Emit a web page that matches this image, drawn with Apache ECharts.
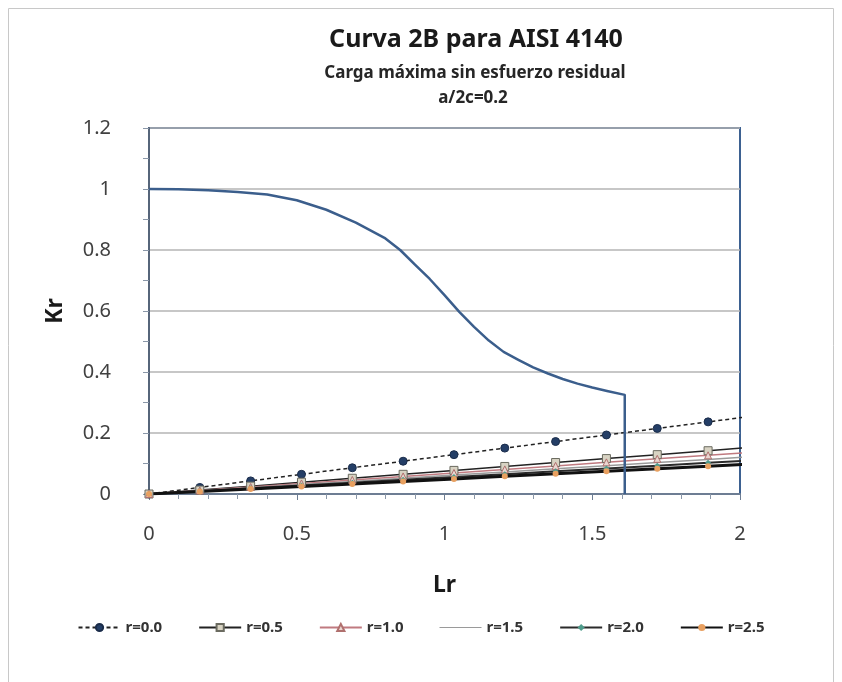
<!DOCTYPE html>
<html>
<head>
<meta charset="utf-8">
<script src="https://cdn.jsdelivr.net/npm/echarts@6/dist/echarts.min.js"></script>
<style>
  html, body { margin: 0; padding: 0; background: #fff; }
  #chart { width: 842px; height: 682px; }
</style>
</head>
<body>
<div id="chart"></div>
<script>
// curva FAD (Lr, Kr)
const fadLr = [0, 0.1, 0.2, 0.3, 0.4, 0.5, 0.6, 0.7, 0.8, 0.85, 0.9, 0.95, 1.0, 1.05, 1.1, 1.15, 1.2, 1.25, 1.3, 1.35, 1.4, 1.45, 1.5, 1.55, 1.61, 1.61]
const fadKr = [1.0, 0.999, 0.996, 0.99, 0.982, 0.963, 0.932, 0.89, 0.838, 0.8, 0.752, 0.705, 0.652, 0.597, 0.548, 0.503, 0.466, 0.44, 0.415, 0.395, 0.377, 0.362, 0.349, 0.338, 0.325, 0]

// puntos de carga (Lr) comunes a todas las series r
const loadLr = [0, 0.172, 0.344, 0.516, 0.688, 0.86, 1.032, 1.204, 1.376, 1.548, 1.72, 1.892, 2.064]
const kr00 = [0, 0.0215, 0.043, 0.0645, 0.086, 0.1075, 0.129, 0.1505, 0.172, 0.1935, 0.215, 0.2365, 0.258]
const kr05 = [0, 0.0129, 0.0258, 0.0387, 0.0516, 0.0645, 0.0774, 0.0903, 0.1032, 0.1161, 0.129, 0.1419, 0.1548]
const kr10 = [0, 0.0115, 0.023, 0.0346, 0.0461, 0.0576, 0.0691, 0.0807, 0.0922, 0.1037, 0.1152, 0.1268, 0.1383]
const kr15 = [0, 0.0103, 0.0206, 0.031, 0.0413, 0.0516, 0.0619, 0.0722, 0.0826, 0.0929, 0.1032, 0.1135, 0.1238]
const kr20 = [0, 0.0093, 0.0186, 0.0279, 0.0372, 0.0464, 0.0557, 0.065, 0.0743, 0.0836, 0.0929, 0.1022, 0.1115]
const kr25 = [0, 0.0083, 0.0165, 0.0248, 0.033, 0.0413, 0.0495, 0.0578, 0.066, 0.0743, 0.0826, 0.0908, 0.0991]

const seriesNames = ['r=0.0', 'r=0.5', 'r=1.0', 'r=1.5', 'r=2.0', 'r=2.5']

const pairs = (xs, ys) => xs.map((x, i) => [x, ys[i]])

const myChart = echarts.init(document.getElementById('chart'))

const font = '"Noto Sans", sans-serif'

let option = {
    animation: false,
    textStyle: { fontFamily: font },
    title: [
        {
            text: 'Curva 2B para AISI 4140',
            left: 471, top: 22, textAlign: 'center',
            textStyle: { fontSize: 25, fontWeight: 'bold', color: '#1a1a1a', fontFamily: font }
        },
        {
            text: 'Carga máxima sin esfuerzo residual',
            left: 470, top: 60, textAlign: 'center',
            textStyle: { fontSize: 17, fontWeight: 'bold', color: '#262626', fontFamily: font }
        },
        {
            text: 'a/2c=0.2',
            left: 468, top: 85, textAlign: 'center',
            textStyle: { fontSize: 17, fontWeight: 'bold', color: '#262626', fontFamily: font }
        }
    ],
    graphic: [
        {
            type: 'rect',
            shape: { x: 8.5, y: 8.5, width: 825, height: 700 },
            style: { fill: 'none', stroke: '#c8c8c8', lineWidth: 1 },
            silent: true
        }
    ],
    legend: {
        data: [
            seriesNames[0], seriesNames[1], seriesNames[2],
            { name: seriesNames[3], icon: 'path://M0,0 H40 V1 H0 Z' },
            seriesNames[4], seriesNames[5]
        ],
        bottom: 42,
        left: 'center',
        itemGap: 36,
        itemWidth: 42,
        itemHeight: 9,
        textStyle: { fontSize: 15, fontWeight: 'bold', color: '#333', fontFamily: font }
    },
    grid: {
        left: 149, right: 102, top: 128, bottom: 188,
        show: true,
        borderColor: '#3d6191',
        borderWidth: 2
    },
    xAxis: {
        type: 'value',
        min: 0, max: 2, interval: 0.5,
        name: 'Lr',
        nameLocation: 'middle',
        nameGap: 80,
        nameTextStyle: { fontSize: 23, fontWeight: 'bold', color: '#1a1a1a', fontFamily: font },
        axisLine: { lineStyle: { color: '#6d7d93', width: 2 } },
        axisTick: { show: true, length: 6, lineStyle: { color: '#6d7d93' } },
        minorTick: { show: true, splitNumber: 5, length: 5, lineStyle: { color: '#8a97a8' } },
        splitLine: { show: false },
        axisLabel: { fontSize: 20, color: '#404040', margin: 30, fontFamily: font }
    },
    yAxis: {
        type: 'value',
        min: 0, max: 1.2, interval: 0.2,
        name: 'Kr',
        nameLocation: 'middle',
        nameGap: 82,
        nameRotate: 90,
        nameTextStyle: { fontSize: 23, fontWeight: 'bold', color: '#1a1a1a', fontFamily: font },
        axisLine: { show: true, lineStyle: { color: '#56657a', width: 2 } },
        axisTick: { show: true, length: 6, lineStyle: { color: '#8a97a8' } },
        minorTick: { show: true, splitNumber: 2, length: 6, lineStyle: { color: '#8a97a8' } },
        splitLine: { show: true, lineStyle: { color: '#b4b4b4', width: 1.5 } },
        axisLabel: {
            fontSize: 20, color: '#404040', margin: 38, align: 'right', fontFamily: font,
            formatter: v => (v === 0 || v === 1) ? String(v) : v.toFixed(1)
        }
    },
    series: [
        {
            name: 'FAD',
            type: 'line',
            data: pairs(fadLr, fadKr),
            symbol: 'none',
            lineStyle: { color: '#3b5e8c', width: 2.5, join: 'round' },
            z: 5
        },
        {
            name: 'r=0.0',
            type: 'line',
            data: pairs(loadLr, kr00),
            symbol: 'circle', symbolSize: 8,
            itemStyle: { color: '#243e66', borderColor: '#1a2c4a', borderWidth: 1 },
            lineStyle: { color: '#222', width: 1.5, type: [4, 3] }
        },
        {
            name: 'r=0.5',
            type: 'line',
            data: pairs(loadLr, kr05),
            symbol: 'rect', symbolSize: 8,
            itemStyle: { color: '#d8d3c3', borderColor: '#6b6b60', borderWidth: 1 },
            lineStyle: { color: '#222', width: 1.5 }
        },
        {
            name: 'r=1.0',
            type: 'line',
            data: pairs(loadLr, kr10),
            symbol: 'triangle', symbolSize: 7,
            itemStyle: { color: '#e9d6d0', borderColor: '#b0706e', borderWidth: 1 },
            lineStyle: { color: '#c07a80', width: 1.5 }
        },
        {
            name: 'r=1.5',
            type: 'line',
            data: pairs(loadLr, kr15),
            symbol: 'none',
            itemStyle: { color: '#9a9a9a' },
            lineStyle: { color: '#9a9a9a', width: 1.5 }
        },
        {
            name: 'r=2.0',
            type: 'line',
            data: pairs(loadLr, kr20),
            symbol: 'diamond', symbolSize: 6,
            itemStyle: { color: '#4f9c8c' },
            lineStyle: { color: '#2b2b2b', width: 2 }
        },
        {
            name: 'r=2.5',
            type: 'line',
            data: pairs(loadLr, kr25),
            symbol: 'circle', symbolSize: 6,
            itemStyle: { color: '#e8a060' },
            lineStyle: { color: '#111', width: 3 }
        }
    ]
}

option && myChart.setOption(option)
</script>
</body>
</html>
